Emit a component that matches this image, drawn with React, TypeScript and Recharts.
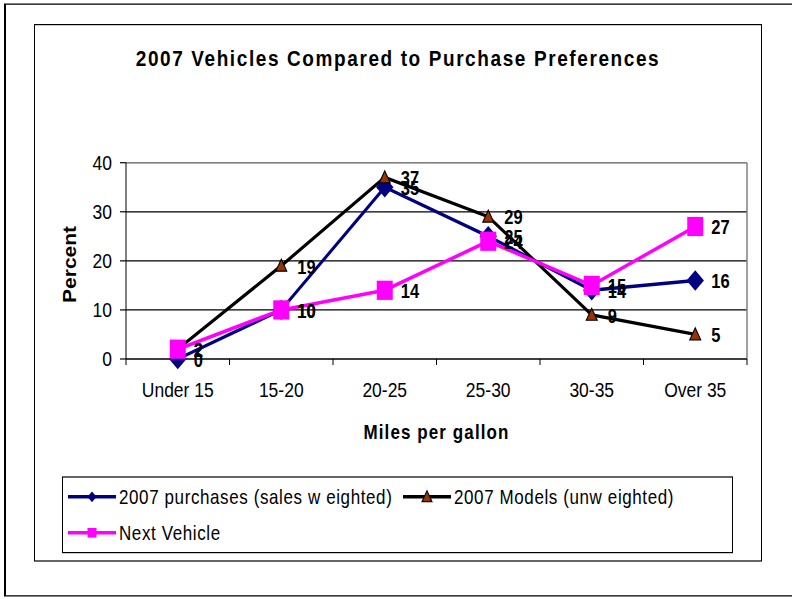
import { CartesianGrid, Label, LabelList, Line, LineChart, ReferenceLine, XAxis, YAxis } from "recharts";

const CATEGORIES = ["Under 15", "15-20", "20-25", "25-30", "30-35", "Over 35"];
const PURCHASES = [0, 10, 35, 25, 14, 16];
const MODELS = [2, 19, 37, 29, 9, 5];
const NEXT_VEHICLE = [2, 10, 14, 24, 15, 27];
const Y_TICKS = [0, 10, 20, 30, 40];
const X_BOUNDS = [0, 1, 2, 3, 4, 5, 6];

const TITLE = "2007 Vehicles Compared to Purchase Preferences";
const NAME_PURCHASES = "2007 purchases (sales w eighted)";
const NAME_MODELS = "2007 Models (unw eighted)";
const NAME_NEXT = "Next Vehicle";

const FONT = "Arial, 'Liberation Sans', sans-serif";
const NAVY = "#000080";
const MAGENTA = "#FF00FF";
const BROWN = "#993300";

// excel output is stretched vertically, so draw at 1/1.2 height and scale up
const SY = 1.2;
const W = 792;
const H = 599 / SY;
const MARGIN = { top: 135.6, right: 45, bottom: 160, left: 66 };
const Y_AXIS_W = 60;
const STEP = (W - MARGIN.left - MARGIN.right - Y_AXIS_W) / CATEGORIES.length;

const data = CATEGORIES.map((c, i) => ({
  x: i + 0.5,
  name: c,
  purchases: PURCHASES[i],
  models: MODELS[i],
  next: NEXT_VEHICLE[i],
}));

const diamond = (p: any) => {
  if (p.cx == null || p.cy == null) return <g key={`dia-${p.index}`} />;
  const { cx, cy } = p;
  return (
    <path
      key={`dia-${p.index}`}
      d={`M${cx},${cy - 8.5} L${cx + 8.7},${cy} L${cx},${cy + 8.5} L${cx - 8.7},${cy} Z`}
      fill={NAVY}
    />
  );
};

const triangle = (p: any) => {
  if (p.cx == null || p.cy == null) return <g key={`tri-${p.index}`} />;
  const { cx, cy } = p;
  return (
    <path
      key={`tri-${p.index}`}
      d={`M${cx},${cy - 5.5} L${cx + 5.5},${cy + 4.5} L${cx - 5.5},${cy + 4.5} Z`}
      fill={BROWN}
      stroke="#000"
      strokeWidth={1}
    />
  );
};

const square = (p: any) => {
  if (p.cx == null || p.cy == null) return <g key={`sq-${p.index}`} />;
  return <rect key={`sq-${p.index}`} x={p.cx - 8} y={p.cy - 8} width={16} height={16} fill={MAGENTA} />;
};

const pointLabel = (p: any) => (
  <text
    x={p.x + 16}
    y={p.y}
    dy={6.5}
    fontSize={16.5}
    fontWeight="bold"
    fill="#000"
    fontFamily={FONT}
  >
    {p.value}
  </text>
);

const CategoryTick = (props: any) => {
  const { x, y, payload } = props;
  const label = CATEGORIES[payload.value];
  if (!label) return <g />;
  return (
    <text x={x + STEP / 2} y={y} dy="0.71em" textAnchor="middle" fontSize={17.5} fill="#000" fontFamily={FONT}>
      {label}
    </text>
  );
};

const PercentLabel = (props: any) => {
  const vb = props.viewBox || { x: 66, y: 135.6, width: 60, height: 163.6 };
  const x = vb.x + 4.5;
  const y = vb.y + vb.height / 2 + 3;
  return (
    <text
      x={x}
      y={y}
      transform={`rotate(-90 ${x} ${y})`}
      textAnchor="middle"
      dominantBaseline="central"
      fontSize={17.5}
      fontWeight="bold"
      fill="#000"
      fontFamily={FONT}
    >
      Percent
    </text>
  );
};

const MpgLabel = (props: any) => {
  const vb = props.viewBox || { x: 126, y: 299.2, width: 621, height: 40 };
  return (
    <text
      x={vb.x + vb.width / 2}
      y={vb.y + vb.height + 14.4}
      dy="0.71em"
      textAnchor="middle"
      fontSize={17}
      fontWeight="bold"
      fill="#000"
      fontFamily={FONT}
      style={{ letterSpacing: 1.1 }}
    >
      Miles per gallon
    </text>
  );
};

function LegendIcon({ kind, color }: { kind: string; color: string }) {
  return (
    <svg width={48} height={16} style={{ display: "block" }}>
      <line x1={0} y1={8} x2={48} y2={8} stroke={color} strokeWidth={3} />
      {kind === "diamond" && <path d="M24,3.5 L28.5,8 L24,12.5 L19.5,8 Z" fill={NAVY} />}
      {kind === "triangle" && <path d="M24,3 L29,12 L19,12 Z" fill={BROWN} stroke="#000" strokeWidth={1} />}
      {kind === "square" && <rect x={19.5} y={4} width={9} height={8} fill={MAGENTA} />}
    </svg>
  );
}

const LEGEND_ITEMS = [
  { name: NAME_PURCHASES, kind: "diamond", color: NAVY, left: 4.7, center: 16.1 },
  { name: NAME_MODELS, kind: "triangle", color: "#000", left: 339.7, center: 16.1 },
  { name: NAME_NEXT, kind: "square", color: MAGENTA, left: 4.7, center: 45.9 },
];

export default function App() {
  return (
    <div
      style={{
        position: "absolute",
        left: 0,
        top: 0,
        width: W,
        height: H,
        overflow: "hidden",
        transform: `scaleY(${SY})`,
        transformOrigin: "0 0",
        background: "#fff",
        fontFamily: FONT,
      }}
    >
      <div
        style={{
          position: "absolute",
          left: 4,
          top: 3.3,
          width: 820,
          height: 494,
          border: "1.5px solid #000",
          borderLeft: "2px solid #000",
          boxSizing: "border-box",
        }}
      />
      <div
        style={{
          position: "absolute",
          left: 34,
          top: 20,
          width: 728,
          height: 448.3,
          border: "1px solid #000",
          boxSizing: "border-box",
        }}
      />
      <div
        style={{
          position: "absolute",
          left: 34,
          top: 38.5,
          width: 728,
          textAlign: "center",
          fontSize: 19,
          lineHeight: "19px",
          fontWeight: "bold",
          letterSpacing: 1.6,
          color: "#000",
          whiteSpace: "nowrap",
        }}
      >
        {TITLE}
      </div>

      <div style={{ position: "absolute", left: 0, top: 0 }}>
        <LineChart width={W} height={H} data={data} margin={MARGIN}>
          <CartesianGrid horizontal vertical={false} stroke="#000" strokeWidth={1} />
          <ReferenceLine x={6} stroke="#808080" strokeWidth={1.5} />
          <ReferenceLine y={40} stroke="#808080" strokeWidth={1} />
          <XAxis
            dataKey="x"
            type="number"
            domain={[0, 6]}
            ticks={X_BOUNDS}
            interval={0}
            height={40}
            tickSize={5}
            tickMargin={14}
            axisLine={{ stroke: "#000" }}
            tickLine={{ stroke: "#000" }}
            tick={CategoryTick}
          >
            <Label content={MpgLabel} />
          </XAxis>
          <YAxis
            type="number"
            domain={[0, 40]}
            ticks={Y_TICKS}
            interval={0}
            width={Y_AXIS_W}
            tickSize={6}
            tickMargin={8}
            axisLine={{ stroke: "#000" }}
            tickLine={{ stroke: "#000" }}
            tick={{ fontSize: 17.5, fill: "#000", fontFamily: FONT }}
          >
            <Label content={PercentLabel} />
          </YAxis>
          <Line
            dataKey="purchases"
            name={NAME_PURCHASES}
            stroke={NAVY}
            strokeWidth={2.8}
            dot={diamond}
            activeDot={false}
            isAnimationActive={false}
          />
          <Line
            dataKey="models"
            name={NAME_MODELS}
            stroke="#000"
            strokeWidth={2.8}
            dot={triangle}
            activeDot={false}
            isAnimationActive={false}
          />
          <Line
            dataKey="next"
            name={NAME_NEXT}
            stroke={MAGENTA}
            strokeWidth={3}
            dot={square}
            activeDot={false}
            isAnimationActive={false}
          />
          {/* label-only series so the numbers sit above every line */}
          <Line dataKey="purchases" stroke="none" dot={false} activeDot={false} legendType="none" isAnimationActive={false}>
            <LabelList dataKey="purchases" content={pointLabel} />
          </Line>
          <Line dataKey="models" stroke="none" dot={false} activeDot={false} legendType="none" isAnimationActive={false}>
            <LabelList dataKey="models" content={pointLabel} />
          </Line>
          <Line dataKey="next" stroke="none" dot={false} activeDot={false} legendType="none" isAnimationActive={false}>
            <LabelList dataKey="next" content={pointLabel} />
          </Line>
        </LineChart>
      </div>

      <div
        style={{
          position: "absolute",
          left: 62,
          top: 397.2,
          width: 671,
          height: 63.9,
          border: "1px solid #000",
          boxSizing: "border-box",
        }}
      >
        {LEGEND_ITEMS.map((it) => (
          <div
            key={it.name}
            style={{
              position: "absolute",
              left: it.left,
              top: it.center - 8.5,
              height: 17,
              display: "flex",
              alignItems: "center",
            }}
          >
            <LegendIcon kind={it.kind} color={it.color} />
            <span
              style={{
                marginLeft: 3.3,
                fontSize: 17,
                lineHeight: "17px",
                letterSpacing: 0.6,
                whiteSpace: "nowrap",
                color: "#000",
              }}
            >
              {it.name}
            </span>
          </div>
        ))}
      </div>
    </div>
  );
}
